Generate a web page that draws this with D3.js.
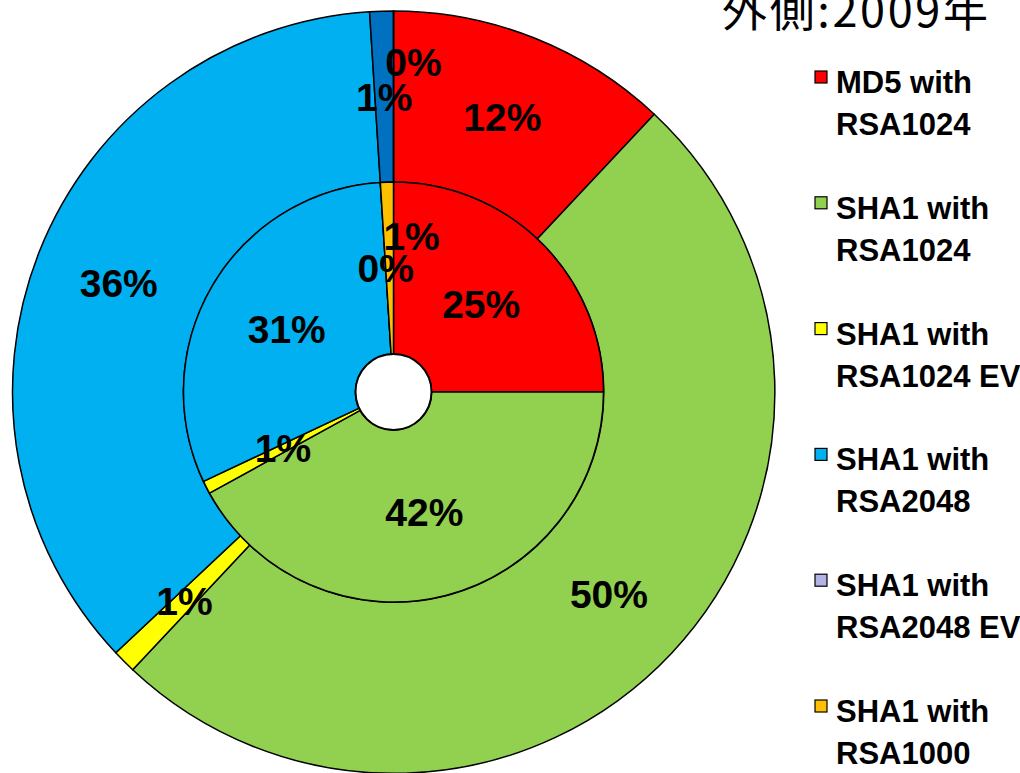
<!DOCTYPE html>
<html>
<head>
<meta charset="utf-8">
<script src="https://cdn.jsdelivr.net/npm/d3@7"></script>
<style>
  html, body { margin: 0; padding: 0; background: #fff; }
  svg { display: block; }
</style>
</head>
<body>
<svg id="chart" width="1020" height="773"></svg>
<script>
// Certificate signature / key types, share of sites (%)
const categories = [
  ["MD5 with", "RSA1024"],
  ["SHA1 with", "RSA1024"],
  ["SHA1 with", "RSA1024 EV"],
  ["SHA1 with", "RSA2048"],
  ["SHA1 with", "RSA2048 EV"],
  ["SHA1 with", "RSA1000"]
];
const inner2008 = [25, 42, 1, 31, 0, 1];   // inner ring
const outer2009 = [12, 50, 1, 36, 1, 0];   // outer ring (2009)
const titleText = "外側:2009年";

// styling
const legendColors = ["#FF0000", "#92D050", "#FFFF00", "#00B0F0", "#B3B3E6", "#FFC000"];
const innerColors  = legendColors;
const outerColors  = ["#FF0000", "#92D050", "#FFFF00", "#00B0F0", "#0070C0", "#FFC000"];

const svg = d3.select("#chart");
const cx = 393.5, cy = 392;
const rHole = 38, rMid = 210, rOut = 381;

const pie = d3.pie().sort(null).value(d => d).startAngle(0).endAngle(2 * Math.PI);
const g = svg.append("g").attr("transform", `translate(${cx},${cy})`);

const innerArc = d3.arc().innerRadius(rHole).outerRadius(rMid);
const outerArc = d3.arc().innerRadius(rMid).outerRadius(rOut);

function ring(values, arc, colors, cls) {
  const arcs = pie(values);
  g.selectAll("path." + cls)
    .data(arcs)
    .enter().append("path")
    .attr("class", cls)
    .attr("d", arc)
    .attr("fill", (d, i) => colors[i])
    .attr("stroke", "#000")
    .attr("stroke-width", 1.5)
    .attr("stroke-linejoin", "round");
  return arcs;
}

// label offsets for crowded small slices near the top
const outerNudge = [null, null, null, null, null, [20, -35]];
const innerNudge = [null, null, null, null, null, [22, -32]];

const outerArcs = ring(outer2009, outerArc, outerColors, "outer");
const innerArcs = ring(inner2008, innerArc, innerColors, "inner");

// center hole
g.append("circle").attr("r", rHole).attr("fill", "#fff")
  .attr("stroke", "#000").attr("stroke-width", 2);

function labels(arcs, arc, nudges, cls) {
  g.selectAll("text." + cls)
    .data(arcs)
    .enter().append("text")
    .attr("class", cls)
    .attr("transform", (d, i) => {
      const c = arc.centroid(d);
      const n = nudges[i] || [0, 0];
      return `translate(${c[0] + n[0]},${c[1] + n[1]})`;
    })
    .attr("text-anchor", "middle")
    .attr("dy", "0.36em")
    .attr("font-family", "'Liberation Sans', Arial, sans-serif")
    .attr("font-weight", "bold")
    .attr("font-size", 39)
    .attr("fill", "#000")
    .text(d => d.data + "%");
}
labels(outerArcs, outerArc, outerNudge, "olab");
labels(innerArcs, innerArc, innerNudge, "ilab");

// title (top line of the chart heading)
svg.append("text")
  .attr("x", 722).attr("y", 27)
  .attr("font-family", "'Noto Sans CJK JP', sans-serif")
  .attr("font-size", 45)
  .attr("textLength", 266)
  .attr("lengthAdjust", "spacing")
  .attr("fill", "#000")
  .text(titleText);

// legend
const legend = svg.append("g").attr("transform", "translate(815,0)");
const rowY = d3.scaleLinear().domain([0, 5]).range([93, 722]);
const items = legend.selectAll("g.item").data(categories).enter()
  .append("g").attr("class", "item")
  .attr("transform", (d, i) => `translate(0,${rowY(i)})`);
items.append("rect")
  .attr("x", 0).attr("y", -22).attr("width", 12).attr("height", 12)
  .attr("fill", (d, i) => legendColors[i])
  .attr("stroke", "#000").attr("stroke-width", 1.2);
items.append("text")
  .attr("x", 21).attr("y", 0)
  .attr("font-family", "'Liberation Sans', Arial, sans-serif")
  .attr("font-weight", "bold")
  .attr("font-size", 31)
  .attr("fill", "#000")
  .selectAll("tspan").data(d => d).enter().append("tspan")
  .attr("x", 21).attr("dy", (d, j) => j === 0 ? 0 : 42)
  .text(d => d);
</script>
</body>
</html>
